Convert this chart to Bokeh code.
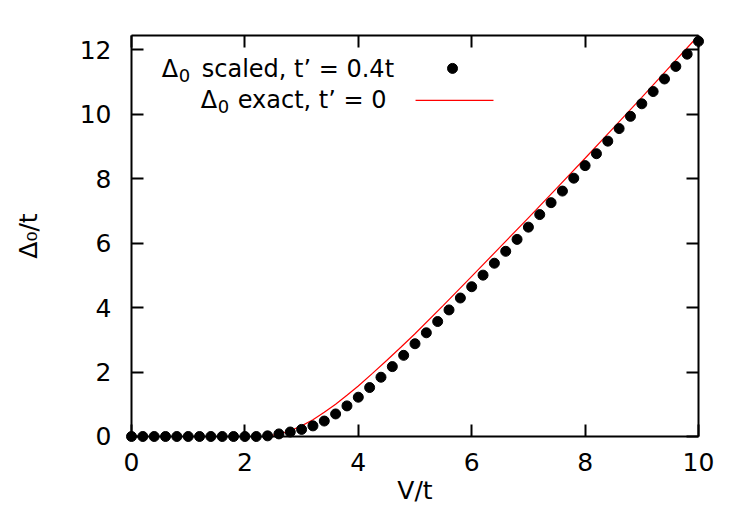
from bokeh.plotting import figure
from bokeh.models import Range1d, LinearAxis, Label, FixedTicker
from bokeh.embed import file_html
from bokeh.resources import INLINE

# ---- data ----
v_scaled = [0.0, 0.2, 0.4, 0.6, 0.8, 1.0, 1.2, 1.4, 1.6, 1.8, 2.0, 2.2,
            2.4, 2.6, 2.8, 3.0, 3.2, 3.4, 3.6, 3.8, 4.0, 4.2, 4.4, 4.6, 4.8,
            5.0, 5.2, 5.4, 5.6, 5.8, 6.0, 6.2, 6.4, 6.6, 6.8, 7.0, 7.2, 7.4,
            7.6, 7.8, 8.0, 8.2, 8.4, 8.6, 8.8, 9.0, 9.2, 9.4, 9.6, 9.8, 10.0]
delta_scaled = [0, 0, 0, 0, 0, 0, 0, 0, 0, 0, 0, 0,
                0.02, 0.08, 0.14, 0.22, 0.33, 0.48, 0.70, 0.95, 1.22, 1.52,
                1.84, 2.17, 2.52, 2.88, 3.22, 3.57, 3.93, 4.30, 4.65, 5.01,
                5.38, 5.75, 6.12, 6.50, 6.89, 7.26, 7.62, 8.02, 8.41, 8.78,
                9.17, 9.56, 9.94, 10.33, 10.71, 11.10, 11.49, 11.87, 12.27]

v_exact = [2.35, 2.5, 2.65, 2.8, 3.0, 3.2, 3.4, 3.6, 3.8, 4.0, 4.25, 4.5,
           4.75, 5.0, 5.5, 6.0, 6.5, 7.0, 7.5, 8.0, 8.5, 9.0, 9.5, 10.0]
delta_exact = [0.0, 0.04, 0.10, 0.18, 0.33, 0.52, 0.75, 1.0, 1.28, 1.57,
               1.96, 2.36, 2.77, 3.19, 4.07, 4.97, 5.88, 6.79, 7.71, 8.64,
               9.58, 10.53, 11.49, 12.45]

x_ticks = [0, 2, 4, 6, 8, 10]
y_ticks = [0, 2, 4, 6, 8, 10, 12]
x_min, x_max = 0, 10
y_min, y_max = 0, 12.45

# ---- layout ----
FONT = "DejaVu Sans"
FS = "25px"
KEY_FS = "24px"
SUB_FS = "18px"
px_x = 56.75   # pixels per x unit
px_y = 32.2    # pixels per y unit
pad = 8        # room around the box so that edge dots are not clipped
W, H = 731, 507

p = figure(width=W, height=H, output_backend="svg", toolbar_location=None,
           x_range=Range1d(x_min - pad / px_x, x_max + pad / px_x),
           y_range=Range1d(y_min - pad / px_y, y_max + pad / px_y),
           x_axis_location=None, y_axis_location=None,
           min_border_left=123, min_border_right=25,
           min_border_top=27, min_border_bottom=63)
p.outline_line_color = None
p.xgrid.visible = False
p.ygrid.visible = False
p.background_fill_color = "white"
p.border_fill_color = "white"

# axes that carry the tick labels and titles (sit at the frame edge)
xlab = LinearAxis(ticker=FixedTicker(ticks=x_ticks), axis_label="V/t")
ylab = LinearAxis(ticker=FixedTicker(ticks=y_ticks), axis_label="Δ₀/t")
for ax in (xlab, ylab):
    ax.axis_line_color = None
    ax.major_tick_line_color = None
    ax.minor_tick_line_color = None
    ax.major_tick_in = 0
    ax.major_tick_out = 0
    ax.major_label_text_font = FONT
    ax.major_label_text_font_size = FS
    ax.major_label_text_color = "black"
    ax.axis_label_text_font = FONT
    ax.axis_label_text_font_size = FS
    ax.axis_label_text_font_style = "normal"
    ax.axis_label_text_color = "black"
xlab.major_label_standoff = 8
xlab.axis_label_standoff = 2
ylab.major_label_standoff = 12
ylab.axis_label_standoff = 34
p.add_layout(xlab, "below")
p.add_layout(ylab, "left")


# axes that draw the border box with inward ticks on all four sides
def box_axis(ticks, loc, bounds):
    ax = LinearAxis(ticker=FixedTicker(ticks=ticks), fixed_location=loc,
                    bounds=bounds)
    ax.axis_line_width = 2
    ax.axis_line_color = "black"
    ax.major_tick_line_width = 2
    ax.major_tick_line_color = "black"
    ax.major_tick_in = 12
    ax.major_tick_out = 0
    ax.minor_tick_line_color = None
    ax.major_label_overrides = {t: "" for t in ticks}
    ax.major_label_text_font_size = "0px"
    ax.major_label_standoff = 0
    return ax


p.add_layout(box_axis(x_ticks, y_min, (x_min, x_max)), "below")
p.add_layout(box_axis(x_ticks, y_max, (x_min, x_max)), "above")
p.add_layout(box_axis(y_ticks, x_min, (y_min, y_max)), "left")
p.add_layout(box_axis(y_ticks, x_max, (y_min, y_max)), "right")

# ---- data marks ----
p.line(v_exact, delta_exact, line_color="#ff0000", line_width=1.2)
p.scatter(v_scaled, delta_scaled, size=10, fill_color="black",
          line_color="black")


def dx(px):  # picture pixel -> data x
    return (px - 130.7) / px_x


def dy(py):  # picture pixel -> data y
    return (436 - py) / px_y


def lab(x, y, text, size=KEY_FS, align="left"):
    p.add_layout(Label(x=x, y=y, text=text, text_font=FONT,
                       text_font_size=size, text_align=align,
                       text_baseline="alphabetic", text_color="black"))


# ---- key ----
lab(dx(161), dy(68.5), "Δ")
lab(dx(178), dy(75), "0", size=SUB_FS)
lab(dx(201), dy(68.5), "scaled, t’ = 0.4t")
p.scatter([dx(452)], [dy(68)], size=10, fill_color="black",
          line_color="black")

lab(dx(200), dy(100), "Δ")
lab(dx(217), dy(106.5), "0", size=SUB_FS)
lab(dx(237), dy(100), "exact, t’ = 0")
p.line([dx(415), dx(493)], [dy(100), dy(100)], line_color="#ff0000",
       line_width=1.2)

open("out.html", "w").write(file_html(p, INLINE))
